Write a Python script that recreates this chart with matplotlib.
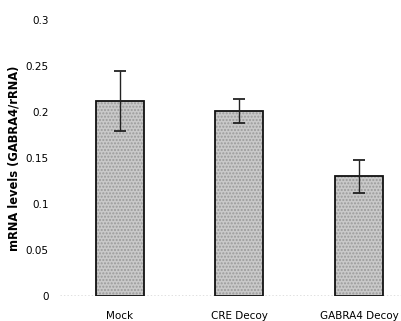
import matplotlib.pyplot as plt

# data
groups = ["Mock", "CRE Decoy", "GABRA4 Decoy"]
mrna = [0.212, 0.201, 0.130]
err = [0.033, 0.013, 0.018]
yticks = [0, 0.05, 0.1, 0.15, 0.2, 0.25, 0.3]
ytick_labels = ["0", "0.05", "0.1", "0.15", "0.2", "0.25", "0.3"]

fig = plt.figure(figsize=(4.02, 3.21), dpi=100)
ax = fig.add_axes([0.149, 0.078, 0.851, 0.86])

x = range(len(groups))
# stippled fill, then the black outline on top
ax.bar(x, mrna, width=0.4, color="#c9c9c9", edgecolor="#9a9a9a",
       linewidth=0, hatch=".....", zorder=2)
ax.bar(x, mrna, width=0.4, color="none", edgecolor="#111111",
       linewidth=1.3, zorder=2.5)
ax.errorbar(x, mrna, yerr=err, fmt="none", ecolor="#222222",
            elinewidth=1.0, capsize=4, capthick=1.3, zorder=3)

ax.axhline(0, color="#666666", linewidth=1.0, linestyle=(0, (1, 1.5)), zorder=1)

ax.set_xlim(-0.5, 2.36)
ax.set_ylim(0, 0.3)
ax.set_yticks(yticks)
ax.set_yticklabels(ytick_labels)
ax.set_xticks(list(x))
ax.set_xticklabels(groups)
ax.tick_params(axis="y", length=0, pad=8, labelsize=7.5)
ax.tick_params(axis="x", length=0, pad=11, labelsize=7.5)
for s in ax.spines.values():
    s.set_visible(False)

ax.set_ylabel("mRNA levels (GABRA4/rRNA)", fontsize=8.3, fontweight="bold",
              labelpad=4)

fig.savefig("out.png", dpi=100)
